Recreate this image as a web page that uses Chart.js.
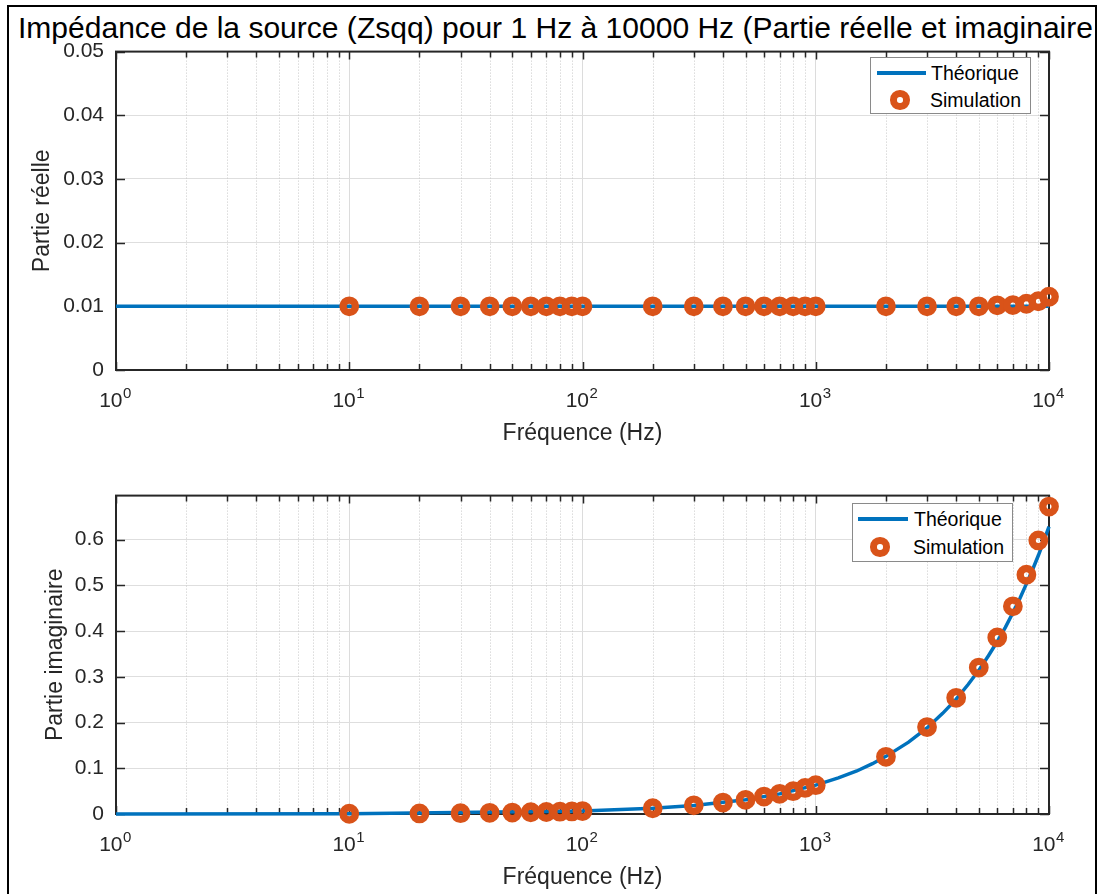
<!DOCTYPE html>
<html>
<head>
<meta charset="utf-8">
<script src="https://cdn.jsdelivr.net/npm/chart.js@4.4.1/dist/chart.umd.min.js"></script>
<style>
  html, body { margin: 0; padding: 0; background: #fff; }
  body { width: 1106px; height: 894px; position: relative; overflow: hidden;
         font-family: "Liberation Sans", Arial, Helvetica, sans-serif; color: #000; }
  #frame { position: absolute; left: 7px; top: 5px; width: 1086px; height: 900px;
           border: 2px solid #000; border-bottom: none; overflow: hidden; }
  #title { position: absolute; left: 9px; top: 5.6px; font-size: 30px; line-height: 30px;
           white-space: nowrap; transform-origin: 0 0; }
  canvas { position: absolute; left: 0; }
  .legend { position: absolute; background: #fff; border: 1px solid #8a8a8a; z-index: 5; }
  .legend .ln { position: absolute; height: 3.5px; background: #0072BD; }
  .legend .mk { position: absolute; width: 19.5px; height: 19.5px; box-sizing: border-box;
                border: 7.4px solid #D95319; border-radius: 50%; }
  .legend span { position: absolute; font-size: 19.5px; line-height: 20px; color: #000; white-space: nowrap; }
</style>
</head>
<body>
<div id="frame"><div id="title">Impédance de la source (Zsqq) pour 1 Hz à 10000 Hz (Partie réelle et imaginaire</div></div>

<canvas id="reel" width="1106" height="433" style="top:27px"></canvas>
<canvas id="imag" width="1106" height="423" style="top:471px"></canvas>

<div class="legend" style="left:870px;top:57px;width:159px;height:55px">
  <div class="ln" style="left:6px;top:13.3px;width:49px"></div><span style="left:60px;top:5px">Théorique</span>
  <div class="mk" style="left:19.2px;top:32.2px"></div><span style="left:59px;top:32px">Simulation</span>
</div>
<div class="legend" style="left:852px;top:503px;width:159px;height:57px">
  <div class="ln" style="left:5px;top:13.3px;width:50px"></div><span style="left:61px;top:5px">Théorique</span>
  <div class="mk" style="left:17.2px;top:33.2px"></div><span style="left:60px;top:33px">Simulation</span>
</div>

<script>
// fréquences (Hz) des points de simulation
const freqSim = [10, 20, 30, 40, 50, 60, 70, 80, 90, 100,
                 200, 300, 400, 500, 600, 700, 800, 900, 1000,
                 2000, 3000, 4000, 5000, 6000, 7000, 8000, 9000, 10000];
const reelSim = [0.01, 0.01, 0.01, 0.01, 0.01, 0.01, 0.01, 0.01, 0.01, 0.01,
                 0.01, 0.01, 0.01, 0.01, 0.01, 0.01, 0.01, 0.01, 0.01,
                 0.01, 0.01, 0.01, 0.01, 0.01015, 0.0102, 0.0104, 0.0108, 0.0115];
const imagSim = [0.0006, 0.0013, 0.0019, 0.0025, 0.0031, 0.0038, 0.0044, 0.005, 0.0057, 0.0063,
                 0.0126, 0.019, 0.025, 0.031, 0.038, 0.044, 0.05, 0.057, 0.063,
                 0.125, 0.19, 0.254, 0.32, 0.386, 0.454, 0.523, 0.598, 0.672];

// courbes théoriques
const freqTheoReel = [1, 10000];
const reelTheo = [0.01, 0.01];
const freqTheoImag = [1, 10, 100, 200, 300, 500, 700, 1000, 1250, 1500, 1750, 2000, 2500, 3000,
                      3500, 4000, 4500, 5000, 5500, 6000, 6500, 7000, 7500, 8000, 8500, 9000, 9500, 10000];
const imagTheo = [0.0001, 0.0006, 0.0063, 0.0126, 0.0188, 0.031, 0.044, 0.063, 0.079, 0.094, 0.110, 0.126, 0.157, 0.188,
                  0.220, 0.251, 0.283, 0.314, 0.346, 0.377, 0.408, 0.440, 0.471, 0.503, 0.534, 0.565, 0.597, 0.628];

// étiquettes des décades 10^n
const decades = [1, 10, 100, 1000, 10000];
const decadeExp = ['0', '1', '2', '3', '4'];

const FONT = '"Liberation Sans", Arial, Helvetica, sans-serif';
const AXIS = '#262626';

// titre : étiré pour tenir dans le cadre comme sur la figure
const t = document.getElementById('title');
t.style.transform = 'scaleX(' + (1075 / t.getBoundingClientRect().width) + ')';

const isDecade = v => Math.abs(Math.log10(v) - Math.round(Math.log10(v))) < 1e-9;

// axes façon MATLAB : grille mineure pointillée, cadre, graduations vers l'intérieur, 10^n
const matlabAxes = {
  id: 'matlabAxes',
  beforeDatasetsDraw(chart) {
    const { ctx, chartArea: a, scales: { x, y } } = chart;
    ctx.save();
    ctx.strokeStyle = '#c8c8c8';
    ctx.lineWidth = 1;
    ctx.setLineDash([1, 2]);
    x.ticks.forEach(tk => {
      if (isDecade(tk.value)) return;
      const px = Math.round(x.getPixelForValue(tk.value)) + 0.5;
      ctx.beginPath(); ctx.moveTo(px, a.top); ctx.lineTo(px, a.bottom); ctx.stroke();
    });
    ctx.setLineDash([]);
    ctx.strokeStyle = AXIS;
    ctx.lineWidth = 1.5;
    x.ticks.forEach(tk => {
      const px = Math.round(x.getPixelForValue(tk.value)) + 0.5;
      const len = isDecade(tk.value) ? 8 : 6;
      ctx.beginPath();
      ctx.moveTo(px, a.bottom); ctx.lineTo(px, a.bottom - len);
      ctx.moveTo(px, a.top); ctx.lineTo(px, a.top + len);
      ctx.stroke();
    });
    y.ticks.forEach(tk => {
      const py = Math.round(y.getPixelForValue(tk.value)) + 0.5;
      ctx.beginPath();
      ctx.moveTo(a.left, py); ctx.lineTo(a.left + 9, py);
      ctx.moveTo(a.right, py); ctx.lineTo(a.right - 9, py);
      ctx.stroke();
    });
    ctx.lineWidth = 2;
    ctx.strokeRect(a.left, a.top, a.right - a.left, a.bottom - a.top);
    ctx.restore();
  },
  afterDraw(chart) {
    const { ctx, chartArea: a, scales: { x } } = chart;
    ctx.save();
    ctx.fillStyle = AXIS;
    ctx.textAlign = 'left';
    ctx.textBaseline = 'alphabetic';
    decades.forEach((v, i) => {
      const px = x.getPixelForValue(v);
      ctx.font = '21px ' + FONT;
      const w1 = ctx.measureText('10').width;
      ctx.font = '15px ' + FONT;
      const w2 = ctx.measureText(decadeExp[i]).width;
      const x0 = px - (w1 + w2) / 2 - 1;
      ctx.font = '21px ' + FONT;
      ctx.fillText('10', x0, a.bottom + 37);
      ctx.font = '15px ' + FONT;
      ctx.fillText(decadeExp[i], x0 + w1 + 0.5, a.bottom + 28);
    });
    ctx.restore();
  }
};

function makeChart(id, theoX, theoY, simY, yOpts, yTitle, yTitlePad, xHeight, xTitlePad) {
  return new Chart(document.getElementById(id), {
    type: 'line',
    data: {
      datasets: [{
        label: 'Simulation',
        data: freqSim.map((f, i) => ({ x: f, y: simY[i] })),
        showLine: false,
        pointStyle: 'circle',
        pointRadius: 6.2,
        pointBorderWidth: 7.4,
        pointBorderColor: '#D95319',
        pointBackgroundColor: 'rgba(0,0,0,0)',
        borderColor: '#D95319',
        clip: false,
        order: 0
      }, {
        label: 'Théorique',
        data: theoX.map((f, i) => ({ x: f, y: theoY[i] })),
        borderColor: '#0072BD',
        borderWidth: 3.5,
        pointRadius: 0,
        tension: 0,
        clip: false,
        order: 1
      }]
    },
    options: {
      responsive: false,
      animation: false,
      devicePixelRatio: 1,
      events: [],
      layout: { padding: { top: 0, right: 57, left: 0, bottom: 0 } },
      plugins: { legend: { display: false }, tooltip: { enabled: false } },
      scales: {
        x: {
          type: 'logarithmic',
          min: 1,
          max: 10000,
          afterBuildTicks: s => {
            const tk = [];
            for (let e = 0; e < 4; e++) for (let m = 1; m < 10; m++) tk.push({ value: m * Math.pow(10, e) });
            tk.push({ value: 10000 });
            s.ticks = tk;
          },
          afterFit: s => { s.height = xHeight; },
          ticks: { autoSkip: false, maxRotation: 0, callback: () => '' },
          grid: {
            drawTicks: false,
            color: c => (c.tick && isDecade(c.tick.value)) ? '#dcdcdc' : 'rgba(0,0,0,0)'
          },
          border: { display: false },
          title: {
            display: true, text: 'Fréquence (Hz)', color: AXIS,
            font: { family: FONT, size: 23 }, padding: { top: 0, bottom: xTitlePad }
          }
        },
        y: Object.assign({
          type: 'linear',
          afterFit: s => { s.width = 116; },
          grid: { drawTicks: false, color: '#dedede' },
          border: { display: false },
          title: {
            display: true, text: yTitle, color: AXIS,
            font: { family: FONT, size: 23 }, padding: { top: yTitlePad, bottom: 0 }
          }
        }, yOpts)
      }
    },
    plugins: [matlabAxes]
  });
}

makeChart('reel', freqTheoReel, reelTheo, reelSim, {
  min: 0, max: 0.05,
  ticks: { stepSize: 0.01, padding: 12, color: AXIS, font: { family: FONT, size: 21 },
           callback: v => v === 0 ? '0' : v.toFixed(2) }
}, 'Partie réelle', 29, 90, 12.2);

makeChart('imag', freqTheoImag, imagTheo, imagSim, {
  min: 0, max: 0.696,
  ticks: { stepSize: 0.1, includeBounds: false, padding: 12, color: AXIS, font: { family: FONT, size: 21 },
           callback: v => v === 0 ? '0' : v.toFixed(1) }
}, 'Partie imaginaire', 42, 80, 2.2);
</script>
</body>
</html>
